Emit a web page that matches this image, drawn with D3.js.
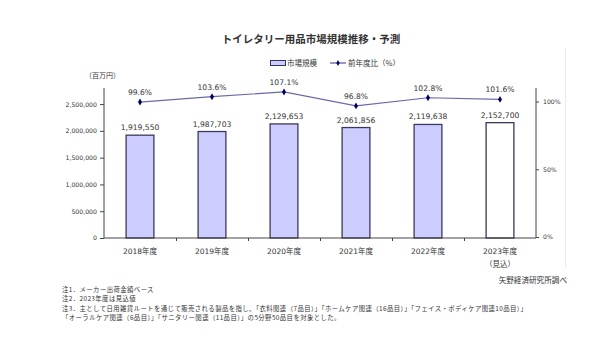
<!DOCTYPE html>
<html><head><meta charset="utf-8">
<script src="https://cdn.jsdelivr.net/npm/d3@7"></script>
<style>
body{margin:0;background:#fff;}
svg{display:block;font-family:"DejaVu Sans","Noto Sans CJK JP",sans-serif;}
.jp{font-family:"Noto Sans CJK JP",sans-serif;}
</style></head>
<body><svg id="c" width="600" height="356"></svg>
<script>
const categories = ["2018年度","2019年度","2020年度","2021年度","2022年度","2023年度"];
const marketSize = [1919550,1987703,2129653,2061856,2119638,2152700];
const yoyRatio = [99.6,103.6,107.1,96.8,102.8,101.6];
const leftTicks = [0,500000,1000000,1500000,2000000,2500000];
const rightTicks = [0,50,100];
const notes = ["注1．メーカー出荷金額ベース","注2．2023年度は見込値",
 "注3．主として日用雑貨ルートを通じて販売される製品を指し、「衣料関連（7品目）」「ホームケア関連（16品目）」「フェイス・ボディケア関連10品目）」",
 "「オーラルケア関連（6品目）」「サニタリー関連（11品目）」の5分野50品目を対象とした。"];

const svg = d3.select("#c");
const L=104,R=536,T=88,B=238;
const x = d3.scaleBand().domain(categories).range([L,R]).paddingInner(0.6).paddingOuter(0.3);
const y = d3.scaleLinear().domain([0,2800000]).range([B,T]);
const y2 = d3.scaleLinear().domain([0,110]).range([B-1,T]);
const fmt = d3.format(",");

// faint frame line
svg.append("line").attr("x1",565.5).attr("x2",565.5).attr("y1",48).attr("y2",268).attr("stroke","#ececec");

// title
svg.append("text").attr("class","jp").attr("x",311).attr("y",43).attr("text-anchor","middle")
 .attr("font-size",10.5).attr("font-weight","bold").attr("fill","#333").text("トイレタリー用品市場規模推移・予測");

// legend
svg.append("rect").attr("x",270.5).attr("y",60.5).attr("width",15).attr("height",5).attr("fill","#ccccff").attr("stroke","#333366");
svg.append("text").attr("class","jp").attr("x",287).attr("y",66).attr("font-size",7.5).attr("fill","#333").text("市場規模");
svg.append("line").attr("x1",330).attr("x2",346).attr("y1",63).attr("y2",63).attr("stroke","#333388").attr("stroke-width",1);
svg.append("path").attr("d",d3.symbol(d3.symbolDiamond,10)()).attr("transform","translate(338,63)").attr("fill","#000066");
svg.append("text").attr("class","jp").attr("x",348).attr("y",66).attr("font-size",7.5).attr("fill","#333").text("前年度比（%）");

// unit
svg.append("text").attr("class","jp").attr("x",85).attr("y",78).attr("font-size",7).attr("fill","#333").text("（百万円）");

// bars
svg.selectAll("rect.bar").data(categories).enter().append("rect").attr("class","bar")
 .attr("x",d=>x(d)+0.5).attr("width",x.bandwidth()-1)
 .attr("y",(d,i)=>y(marketSize[i])).attr("height",(d,i)=>B-y(marketSize[i]))
 .attr("fill",(d,i)=>i===5?"#ffffff":"#ccccff").attr("stroke","#3a3a5a").attr("stroke-width",1.3);
svg.selectAll("text.val").data(categories).enter().append("text").attr("class","val")
 .attr("x",d=>x(d)+x.bandwidth()/2).attr("y",(d,i)=>y(marketSize[i])-5)
 .attr("text-anchor","middle").attr("font-size",7.6).attr("fill","#333").text((d,i)=>fmt(marketSize[i]));

// axes
const ga = svg.append("g").attr("transform",`translate(${L},0)`)
 .call(d3.axisLeft(y).tickValues(leftTicks).tickFormat(fmt).tickSize(4).tickPadding(3));
ga.select(".domain").attr("d",`M-0,${T}V${B}`);
const gr = svg.append("g").attr("transform",`translate(${R},0)`)
 .call(d3.axisRight(y2).tickValues(rightTicks).tickFormat(d=>d+"%").tickSize(3).tickPadding(4));
gr.select(".domain").attr("d",`M0,${T}V${B}`);
const gx = svg.append("g").attr("transform",`translate(0,${B})`)
 .call(d3.axisBottom(d3.scaleLinear().domain([0,6]).range([L,R])).tickValues([1,2,3,4,5]).tickFormat("").tickSize(3));
gx.select(".domain").attr("d",`M${L},0H${R}`);
svg.selectAll(".tick text").attr("font-size",6.2).attr("fill","#333").attr("font-family","DejaVu Sans");
svg.selectAll(".domain,.tick line").attr("stroke","#444");

// x labels
svg.selectAll("text.cat").data(categories).enter().append("text").attr("class","cat")
 .attr("x",d=>x(d)+x.bandwidth()/2).attr("y",254).attr("text-anchor","middle")
 .attr("font-size",7.5).attr("fill","#333").text(d=>d);
svg.append("text").attr("class","jp").attr("x",x(categories[5])+x.bandwidth()/2).attr("y",267)
 .attr("text-anchor","middle").attr("font-size",7.5).attr("fill","#333").text("（見込）");

// line
const pts = categories.map((c,i)=>[x(c)+x.bandwidth()/2,y2(yoyRatio[i])]);
svg.append("path").attr("d",d3.line()(pts)).attr("fill","none").attr("stroke","#6a6aa8").attr("stroke-width",1.2);
svg.selectAll("path.mk").data(pts).enter().append("path").attr("class","mk")
 .attr("d",d3.symbol(d3.symbolDiamond,14)()).attr("transform",d=>`translate(${d[0]},${d[1]})`).attr("fill","#000066");
svg.selectAll("text.pct").data(categories).enter().append("text").attr("class","pct")
 .attr("x",d=>x(d)+x.bandwidth()/2).attr("y",(d,i)=>y2(yoyRatio[i])-7)
 .attr("text-anchor","middle").attr("font-size",7.6).attr("fill","#333").text((d,i)=>yoyRatio[i].toFixed(1)+"%");

// source
svg.append("text").attr("class","jp").attr("x",567).attr("y",283).attr("text-anchor","end")
 .attr("font-size",7.6).attr("fill","#333").text("矢野経済研究所調べ");

// notes
svg.selectAll("text.note").data(notes).enter().append("text").attr("class","note jp")
 .attr("x",62).attr("y",(d,i)=>291.5+i*9.5).attr("font-size",6.4).attr("letter-spacing",0.4)
 .attr("fill","#333").text(d=>d);
</script></body></html>
